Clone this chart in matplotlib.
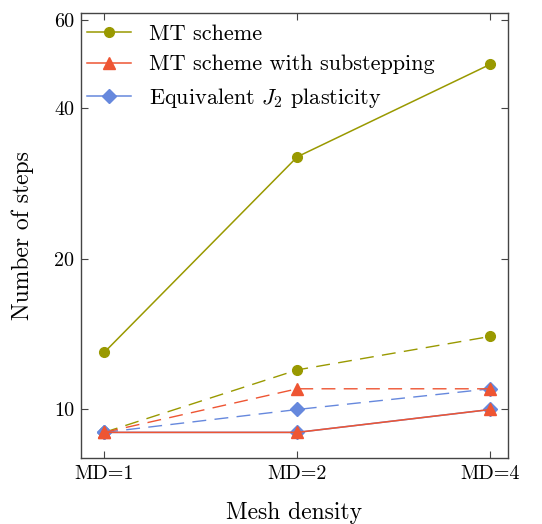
import matplotlib
matplotlib.use("Agg")
import matplotlib.pyplot as plt
from matplotlib.ticker import FixedLocator, FixedFormatter, NullLocator

plt.rcParams['font.family'] = 'serif'
plt.rcParams['font.serif'] = ['cmr10', 'DejaVu Serif']
plt.rcParams['mathtext.fontset'] = 'cm'
plt.rcParams['axes.formatter.use_mathtext'] = True

# data
md_labels = ['MD=1', 'MD=2', 'MD=4']
mt_solid = [13, 32, 49]
mt_dashed = [9, 12, 14]
sub_solid = [9, 9, 10]
sub_dashed = [9, 11, 11]
j2_solid = [9, 9, 10]
j2_dashed = [9, 10, 11]
y_ticks = [10, 20, 40, 60]

c_mt = '#999900'
c_sub = '#EE5533'
c_j2 = '#6688DD'

fig = plt.figure(figsize=(5.42, 5.24), dpi=100)
ax = fig.add_axes([0.1494, 0.126, 0.7876, 0.849])
x = list(range(len(md_labels)))

dash = (10, 6)
h_mt, = ax.plot(x, mt_solid, '-', color=c_mt, marker='o', ms=7, lw=1.1)
ax.plot(x, mt_dashed, '--', color=c_mt, marker='o', ms=7, lw=1.0, dashes=dash)
h_j2, = ax.plot(x, j2_solid, '-', color=c_j2, marker='D', ms=7, lw=1.1)
ax.plot(x, j2_dashed, '--', color=c_j2, marker='D', ms=7, lw=1.0, dashes=dash)
h_sub, = ax.plot(x, sub_solid, '-', color=c_sub, marker='^', ms=9, lw=1.1)
ax.plot(x, sub_dashed, '--', color=c_sub, marker='^', ms=9, lw=1.0, dashes=dash)

ax.set_yscale('log', base=2)
ax.set_ylim(8, 62)
ax.set_xlim(-0.12, 2.09)
ax.yaxis.set_major_locator(FixedLocator(y_ticks))
ax.yaxis.set_major_formatter(FixedFormatter([str(t) for t in y_ticks]))
ax.yaxis.set_minor_locator(NullLocator())
ax.set_xticks(x)
ax.set_xticklabels(md_labels)

ax.tick_params(direction='in', length=5, width=0.8, labelsize=14.5, colors='#444444',
               labelcolor='black', top=True, right=True, pad=5)
for s in ax.spines.values():
    s.set_color('#444444')
    s.set_linewidth(1.0)

ax.set_xlabel('Mesh density', fontsize=17, labelpad=14)
ax.set_ylabel('Number of steps', fontsize=17, labelpad=14)

ax.legend([h_mt, h_sub, h_j2],
          ['MT scheme', 'MT scheme with substepping', r'Equivalent $J_2$ plasticity'],
          loc='upper left', frameon=False, fontsize=16, handlelength=2.0,
          borderaxespad=0.0, borderpad=0.5, labelspacing=0.5, handletextpad=0.8,
          bbox_to_anchor=(-0.012, 1.0))

fig.savefig('out.png', dpi=100)
